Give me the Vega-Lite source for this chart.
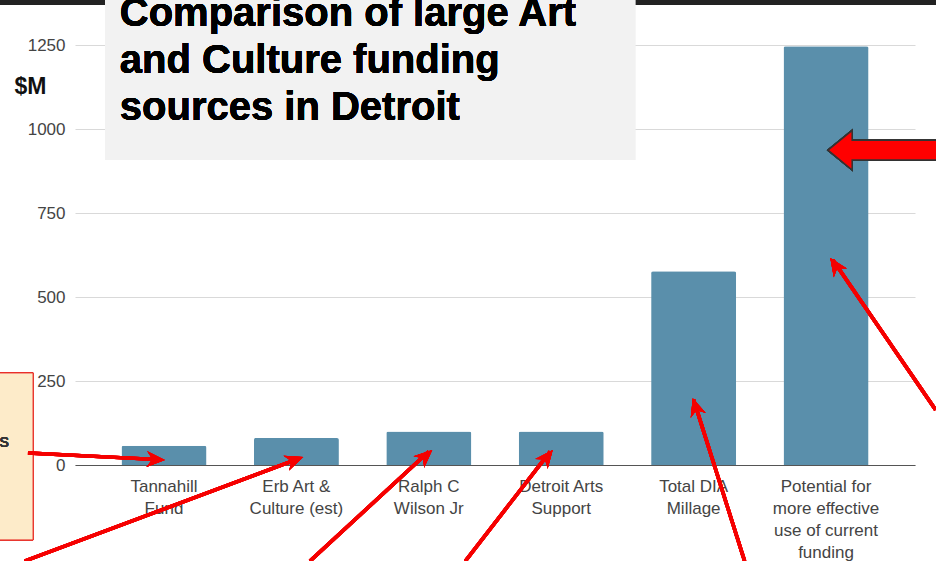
{
  "$schema": "https://vega.github.io/schema/vega-lite/v6.json",
  "autosize": {"type": "none"},
  "width": 840,
  "height": 420,
  "padding": {"left": 75, "top": 45, "right": 21, "bottom": 96},
  "background": "white",
  "config": {"view": {"stroke": null}, "font": "Liberation Sans"},
  "data": {"values": [
    {"source": "Tannahill Fund", "amount": 57},
    {"source": "Erb Art & Culture (est)", "amount": 80},
    {"source": "Ralph C Wilson Jr", "amount": 100},
    {"source": "Detroit Arts Support", "amount": 100},
    {"source": "Total DIA Millage", "amount": 577},
    {"source": "Potential for more effective use of current funding", "amount": 1246}
  ]},
  "layer": [
    {
      "mark": {"type": "bar", "color": "#5a8fab", "cornerRadiusTopLeft": 2, "cornerRadiusTopRight": 2},
      "encoding": {
        "x": {
          "field": "source", "type": "nominal", "sort": null,
          "scale": {"paddingInner": 0.358, "paddingOuter": 0.351},
          "axis": {
            "title": null, "labelAngle": 0, "ticks": false, "domainColor": "#555", "domainWidth": 1.2,
            "labelFontSize": 17, "labelColor": "#444", "labelPadding": 13, "labelLineHeight": 22,
            "labelExpr": "datum.label == 'Tannahill Fund' ? ['Tannahill', 'Fund'] : datum.label == 'Erb Art & Culture (est)' ? ['Erb Art &', 'Culture (est)'] : datum.label == 'Ralph C Wilson Jr' ? ['Ralph C', 'Wilson Jr'] : datum.label == 'Detroit Arts Support' ? ['Detroit Arts', 'Support'] : datum.label == 'Total DIA Millage' ? ['Total DIA', 'Millage'] : ['Potential for', 'more effective', 'use of current', 'funding']"
          }
        },
        "y": {
          "field": "amount", "type": "quantitative",
          "scale": {"domain": [0, 1250], "nice": false},
          "axis": {
            "values": [0, 250, 500, 750, 1000, 1250], "format": "d", "domain": false, "ticks": false,
            "gridColor": "#d9d9d9", "labelFontSize": 17, "labelColor": "#444", "labelPadding": 10,
            "title": "$M", "titleAngle": 0, "titleFontSize": 23, "titleFontWeight": "bold", "titleColor": "#111",
            "titleX": -45, "titleY": 48, "titleAlign": "center", "titleBaseline": "alphabetic"
          }
        }
      }
    },
    {
      "mark": {"type": "rect", "color": "#222"},
      "encoding": {
        "x": {"datum": "Tannahill Fund", "bandPosition": -1.5},
        "x2": {"datum": "Potential for more effective use of current funding", "bandPosition": 2.0},
        "y": {"datum": 1370},
        "y2": {"datum": 1400}
      }
    },
    {
      "mark": {"type": "rect", "color": "#f2f2f2"},
      "encoding": {
        "x": {"datum": "Tannahill Fund", "bandPosition": -0.19},
        "x2": {"datum": "Detroit Arts Support", "bandPosition": 1.37},
        "y": {"datum": 908},
        "y2": {"datum": 1400}
      }
    },
    {
      "mark": {"type": "text", "align": "left", "baseline": "alphabetic", "fontSize": 40, "fontWeight": "bold", "color": "#000", "lineHeight": 47},
      "encoding": {
        "x": {"datum": "Tannahill Fund", "bandPosition": -0.02},
        "y": {"datum": 1308},
        "text": {"value": ["Comparison of large Art", "and Culture funding", "sources in Detroit"]}
      }
    },
    {
      "mark": {"type": "rect", "color": "#fdebc9", "stroke": "#e8302a", "strokeWidth": 1},
      "encoding": {
        "x": {"datum": "Tannahill Fund", "bandPosition": -1.5},
        "x2": {"datum": "Tannahill Fund", "bandPosition": -1.04},
        "y": {"datum": 274},
        "y2": {"datum": -223}
      }
    },
    {
      "mark": {"type": "text", "align": "center", "baseline": "alphabetic", "fontSize": 19, "color": "#333"},
      "encoding": {
        "x": {"datum": "Tannahill Fund", "bandPosition": -1.38},
        "y": {"datum": 54},
        "text": {"value": "s"}
      }
    },
    {
      "mark": {"type": "rule", "color": "#f50000", "strokeWidth": 3.5},
      "encoding": {
        "x": {"datum": "Tannahill Fund", "bandPosition": -1.1},
        "x2": {"datum": "Tannahill Fund", "bandPosition": 0.45},
        "y": {"datum": 36},
        "y2": {"datum": 16}
      }
    },
    {
      "mark": {"type": "point", "filled": true, "color": "#f50000", "opacity": 1, "size": 506, "angle": 93, "shape": "M0,0 L-0.7,1.6 L0,1.1 L0.7,1.6 Z"},
      "encoding": {
        "x": {"datum": "Tannahill Fund", "bandPosition": 0.51},
        "y": {"datum": 15}
      }
    },
    {
      "mark": {"type": "rule", "color": "#f50000", "strokeWidth": 3.5},
      "encoding": {
        "x": {"datum": "Tannahill Fund", "bandPosition": -1.14},
        "x2": {"datum": "Erb Art & Culture (est)", "bandPosition": 0.52},
        "y": {"datum": -286},
        "y2": {"datum": 18}
      }
    },
    {
      "mark": {"type": "point", "filled": true, "color": "#f50000", "opacity": 1, "size": 506, "angle": 69.5, "shape": "M0,0 L-0.7,1.6 L0,1.1 L0.7,1.6 Z"},
      "encoding": {
        "x": {"datum": "Erb Art & Culture (est)", "bandPosition": 0.58},
        "y": {"datum": 24}
      }
    },
    {
      "mark": {"type": "rule", "color": "#f50000", "strokeWidth": 3.5},
      "encoding": {
        "x": {"datum": "Erb Art & Culture (est)", "bandPosition": 0.66},
        "x2": {"datum": "Ralph C Wilson Jr", "bandPosition": 0.5},
        "y": {"datum": -286},
        "y2": {"datum": 40}
      }
    },
    {
      "mark": {"type": "point", "filled": true, "color": "#f50000", "opacity": 1, "size": 506, "angle": 47.7, "shape": "M0,0 L-0.7,1.6 L0,1.1 L0.7,1.6 Z"},
      "encoding": {
        "x": {"datum": "Ralph C Wilson Jr", "bandPosition": 0.54},
        "y": {"datum": 45}
      }
    },
    {
      "mark": {"type": "rule", "color": "#f50000", "strokeWidth": 3.5},
      "encoding": {
        "x": {"datum": "Ralph C Wilson Jr", "bandPosition": 0.93},
        "x2": {"datum": "Detroit Arts Support", "bandPosition": 0.37},
        "y": {"datum": -286},
        "y2": {"datum": 40}
      }
    },
    {
      "mark": {"type": "point", "filled": true, "color": "#f50000", "opacity": 1, "size": 506, "angle": 38.4, "shape": "M0,0 L-0.7,1.6 L0,1.1 L0.7,1.6 Z"},
      "encoding": {
        "x": {"datum": "Detroit Arts Support", "bandPosition": 0.4},
        "y": {"datum": 45}
      }
    },
    {
      "mark": {"type": "rule", "color": "#f50000", "strokeWidth": 3.5},
      "encoding": {
        "x": {"datum": "Total DIA Millage", "bandPosition": 1.1},
        "x2": {"datum": "Total DIA Millage", "bandPosition": 0.5},
        "y": {"datum": -286},
        "y2": {"datum": 194}
      }
    },
    {
      "mark": {"type": "point", "filled": true, "color": "#f50000", "opacity": 1, "size": 506, "angle": -17.7, "shape": "M0,0 L-0.7,1.6 L0,1.1 L0.7,1.6 Z"},
      "encoding": {
        "x": {"datum": "Total DIA Millage", "bandPosition": 0.49},
        "y": {"datum": 199}
      }
    },
    {
      "mark": {"type": "rule", "color": "#f50000", "strokeWidth": 3.5},
      "encoding": {
        "x": {"datum": "Potential for more effective use of current funding", "bandPosition": 1.79},
        "x2": {"datum": "Potential for more effective use of current funding", "bandPosition": 0.58},
        "y": {"datum": 164},
        "y2": {"datum": 610}
      }
    },
    {
      "mark": {"type": "point", "filled": true, "color": "#f50000", "opacity": 1, "size": 506, "angle": -34, "shape": "M0,0 L-0.7,1.6 L0,1.1 L0.7,1.6 Z"},
      "encoding": {
        "x": {"datum": "Potential for more effective use of current funding", "bandPosition": 0.55},
        "y": {"datum": 616}
      }
    },
    {
      "mark": {"type": "point", "filled": true, "color": "#ff0000", "opacity": 1, "stroke": "#333", "strokeWidth": 1.5, "size": 12100, "shape": "M-1,0 L-0.56,-0.36 L-0.56,-0.18 L1,-0.18 L1,0.18 L-0.56,0.18 L-0.56,0.36 Z"},
      "encoding": {
        "x": {"datum": "Potential for more effective use of current funding", "bandPosition": 1.17},
        "y": {"datum": 937}
      }
    }
  ]
}
